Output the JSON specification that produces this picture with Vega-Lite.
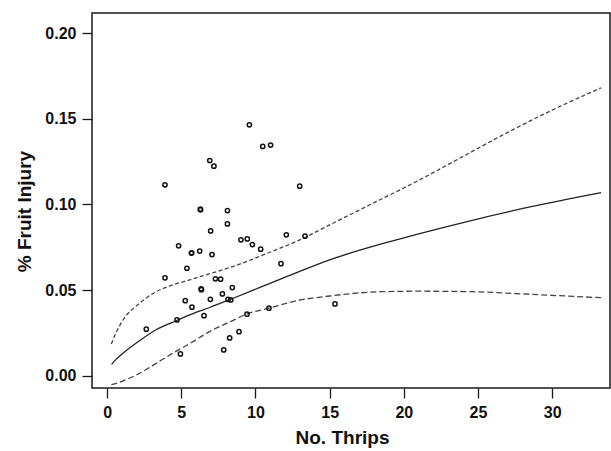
{
  "$schema": "https://vega.github.io/schema/vega-lite/v6.json",
  "width": 518,
  "height": 375,
  "autosize": {"type": "none"},
  "padding": {"left": 92, "top": 13, "right": 1, "bottom": 63},
  "background": "white",
  "config": {
    "view": {"stroke": "#1a1a1a", "strokeWidth": 1.5},
    "font": "Liberation Sans",
    "axis": {
      "domain": false,
      "grid": false,
      "tickColor": "#1a1a1a",
      "tickSize": 10,
      "tickWidth": 1.3,
      "labelFont": "Liberation Sans",
      "labelFontWeight": "bold",
      "labelFontSize": 16,
      "labelColor": "#111",
      "titleFont": "Liberation Sans",
      "titleFontWeight": "bold",
      "titleFontSize": 19,
      "titleColor": "#111"
    }
  },
  "datasets": {
    "points": [
      {"thrips": 3.90, "injury": 0.1114},
      {"thrips": 3.90, "injury": 0.0571},
      {"thrips": 2.64, "injury": 0.0271},
      {"thrips": 4.82, "injury": 0.0758},
      {"thrips": 5.68, "injury": 0.0715},
      {"thrips": 5.70, "injury": 0.0717},
      {"thrips": 5.38, "injury": 0.0627},
      {"thrips": 5.27, "injury": 0.0438},
      {"thrips": 5.72, "injury": 0.0400},
      {"thrips": 6.53, "injury": 0.0350},
      {"thrips": 4.71, "injury": 0.0325},
      {"thrips": 4.94, "injury": 0.0127},
      {"thrips": 6.28, "injury": 0.0972},
      {"thrips": 6.30, "injury": 0.0968},
      {"thrips": 6.92, "injury": 0.1256},
      {"thrips": 7.20, "injury": 0.1223},
      {"thrips": 9.59, "injury": 0.1464},
      {"thrips": 10.49, "injury": 0.1338},
      {"thrips": 11.02, "injury": 0.1346},
      {"thrips": 12.98, "injury": 0.1106},
      {"thrips": 8.11, "injury": 0.0964},
      {"thrips": 8.11, "injury": 0.0886},
      {"thrips": 6.98, "injury": 0.0845},
      {"thrips": 12.08, "injury": 0.0822},
      {"thrips": 13.34, "injury": 0.0814},
      {"thrips": 9.02, "injury": 0.0793},
      {"thrips": 9.45, "injury": 0.0798},
      {"thrips": 9.79, "injury": 0.0765},
      {"thrips": 10.35, "injury": 0.0738},
      {"thrips": 6.24, "injury": 0.0727},
      {"thrips": 7.07, "injury": 0.0707},
      {"thrips": 11.72, "injury": 0.0654},
      {"thrips": 7.30, "injury": 0.0565},
      {"thrips": 7.65, "injury": 0.0563},
      {"thrips": 6.34, "injury": 0.0506},
      {"thrips": 6.36, "injury": 0.0502},
      {"thrips": 8.44, "injury": 0.0514},
      {"thrips": 7.77, "injury": 0.0477},
      {"thrips": 6.96, "injury": 0.0446},
      {"thrips": 8.15, "injury": 0.0446},
      {"thrips": 8.33, "injury": 0.0442},
      {"thrips": 8.26, "injury": 0.0220},
      {"thrips": 8.89, "injury": 0.0257},
      {"thrips": 9.43, "injury": 0.0359},
      {"thrips": 10.91, "injury": 0.0394},
      {"thrips": 15.36, "injury": 0.0419},
      {"thrips": 7.86, "injury": 0.0150}
    ],
    "fit": [
      {"thrips": 0.3, "injury": 0.0066},
      {"thrips": 0.6, "injury": 0.0095},
      {"thrips": 1.07, "injury": 0.0131},
      {"thrips": 2.2, "injury": 0.0205},
      {"thrips": 3.3, "injury": 0.0268},
      {"thrips": 4.7, "injury": 0.0322},
      {"thrips": 5.56, "injury": 0.0355},
      {"thrips": 6.9, "injury": 0.0398},
      {"thrips": 8.5, "injury": 0.0452},
      {"thrips": 11.85, "injury": 0.0569},
      {"thrips": 15.0, "injury": 0.0676},
      {"thrips": 19.5, "injury": 0.0793},
      {"thrips": 24.0, "injury": 0.0894},
      {"thrips": 28.5, "injury": 0.0985},
      {"thrips": 33.3, "injury": 0.1069}
    ],
    "upper": [
      {"thrips": 0.28, "injury": 0.0185},
      {"thrips": 0.6, "injury": 0.0250},
      {"thrips": 1.07, "injury": 0.0325},
      {"thrips": 2.19, "injury": 0.0423},
      {"thrips": 3.32, "injury": 0.0491},
      {"thrips": 4.44, "injury": 0.0530},
      {"thrips": 5.56, "injury": 0.0559},
      {"thrips": 6.91, "injury": 0.0595},
      {"thrips": 8.48, "injury": 0.0637},
      {"thrips": 10.7, "injury": 0.0711},
      {"thrips": 13.0, "injury": 0.0793},
      {"thrips": 15.0, "injury": 0.0880},
      {"thrips": 18.0, "injury": 0.1010},
      {"thrips": 21.0, "injury": 0.1140},
      {"thrips": 24.0, "injury": 0.1280},
      {"thrips": 27.0, "injury": 0.1420},
      {"thrips": 30.0, "injury": 0.1550},
      {"thrips": 33.3, "injury": 0.1680}
    ],
    "lower": [
      {"thrips": 0.28, "injury": -0.0052},
      {"thrips": 0.8, "injury": -0.0040},
      {"thrips": 1.5, "injury": -0.0015},
      {"thrips": 2.2, "injury": 0.0014},
      {"thrips": 3.3, "injury": 0.0072},
      {"thrips": 4.4, "injury": 0.0130},
      {"thrips": 5.6, "injury": 0.0189},
      {"thrips": 6.9, "injury": 0.0257},
      {"thrips": 8.3, "injury": 0.0315},
      {"thrips": 9.4, "injury": 0.0359},
      {"thrips": 10.9, "injury": 0.0394},
      {"thrips": 12.8, "injury": 0.0438},
      {"thrips": 15.0, "injury": 0.0465},
      {"thrips": 18.4, "injury": 0.0490},
      {"thrips": 21.0, "injury": 0.0493},
      {"thrips": 24.6, "injury": 0.0490},
      {"thrips": 28.5, "injury": 0.0475},
      {"thrips": 33.3, "injury": 0.0455}
    ]
  },
  "encoding": {
    "x": {
      "field": "thrips",
      "type": "quantitative",
      "scale": {"domain": [-1.02, 33.9], "nice": false, "zero": false},
      "axis": {"title": "No. Thrips", "values": [0, 5, 10, 15, 20, 25, 30], "labelPadding": 6, "titlePadding": 8, "titleX": 250}
    },
    "y": {
      "field": "injury",
      "type": "quantitative",
      "scale": {"domain": [-0.0072, 0.2117], "nice": false, "zero": false},
      "axis": {"title": "% Fruit Injury", "values": [0, 0.05, 0.1, 0.15, 0.2], "format": ".2f", "labelPadding": 6, "titlePadding": 10, "titleY": 198}
    }
  },
  "layer": [
    {
      "data": {"name": "upper"},
      "mark": {"type": "line", "color": "#444", "strokeWidth": 1.3, "strokeDash": [4, 2.5], "interpolate": "monotone", "clip": true}
    },
    {
      "data": {"name": "lower"},
      "mark": {"type": "line", "color": "#444", "strokeWidth": 1.3, "strokeDash": [6, 3], "interpolate": "monotone", "clip": true}
    },
    {
      "data": {"name": "fit"},
      "mark": {"type": "line", "color": "#222", "strokeWidth": 1.3, "interpolate": "monotone", "clip": true}
    },
    {
      "data": {"name": "points"},
      "mark": {"type": "point", "shape": "circle", "filled": false, "color": "#111", "strokeWidth": 1.5, "size": 18, "opacity": 1}
    }
  ]
}
